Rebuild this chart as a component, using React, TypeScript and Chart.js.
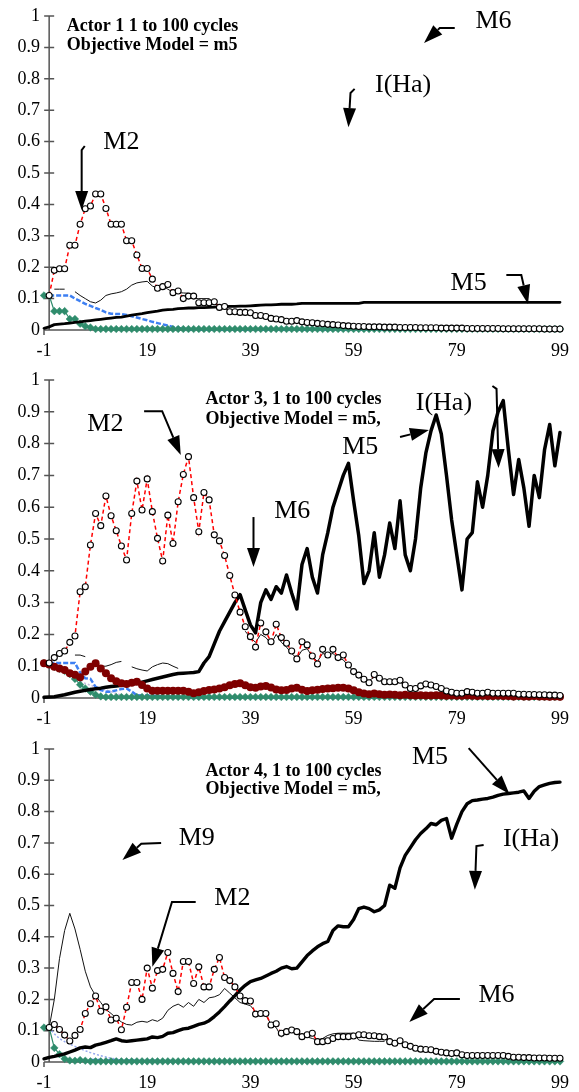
import React, { useEffect, useRef } from 'react';
import { Chart, registerables } from 'chart.js';

Chart.register(...registerables);

const SERIF = '"Liberation Serif", "Times New Roman", serif';

const X_TICKS = [-1, 19, 39, 59, 79, 99];
const Y_TICKS = [0, 0.1, 0.2, 0.3, 0.4, 0.5, 0.6, 0.7, 0.8, 0.9, 1];

// ---------------- Panel 1 : Actor 1 ----------------
const P1_M2_START = 0;
const P1_M2 = [
  0.11, 0.19, 0.195, 0.195, 0.27, 0.27, 0.337, 0.386, 0.395, 0.433,
  0.433, 0.387, 0.337, 0.337, 0.337, 0.284, 0.284, 0.239, 0.196, 0.196,
  0.162, 0.133, 0.138, 0.145, 0.119, 0.124, 0.1, 0.108, 0.108, 0.087,
  0.087, 0.087, 0.09, 0.072, 0.075, 0.058, 0.058, 0.056, 0.056, 0.055,
  0.046, 0.046, 0.043, 0.037, 0.035, 0.033, 0.028, 0.028, 0.03, 0.026,
  0.024, 0.023, 0.021, 0.02, 0.018, 0.017, 0.016, 0.014, 0.013, 0.012,
  0.011, 0.011, 0.01, 0.01, 0.01, 0.009, 0.009, 0.009, 0.008, 0.008,
  0.008, 0.008, 0.007, 0.007, 0.007, 0.007, 0.006, 0.006, 0.006, 0.006,
  0.006, 0.005, 0.005, 0.005, 0.005, 0.005, 0.005, 0.005, 0.004, 0.004,
  0.004, 0.004, 0.004, 0.004, 0.004, 0.004, 0.003, 0.003, 0.003, 0.003,
];
const P1_THIN_START = 1;
const P1_THIN = [
  0.13, 0.13, 0.13, null, 0.122, 0.11, 0.1, 0.09, 0.086, 0.095,
  0.11, 0.115, 0.118, 0.122, 0.13, 0.143, 0.15, 0.153, 0.155, 0.14,
  0.133, 0.14, 0.13, 0.12, 0.119, 0.118, 0.117, 0.1, 0.1, 0.1,
  0.1, 0.085, 0.078, 0.07, 0.06, 0.057, 0.055, 0.054, 0.052, 0.046,
  0.044, 0.042, 0.037, 0.034, 0.032, 0.028, 0.027,
];
const P1_BLUE_START = 0;
const P1_BLUE = [
  0.11, 0.11, 0.11, 0.11, 0.11, 0.1, 0.092, 0.083, 0.077, 0.07,
  0.064, 0.056, 0.052, 0.051, 0.051, 0.048, 0.044, 0.04, 0.035, 0.031,
  0.026, 0.022, 0.018, 0.014, 0.01, 0.007, 0.004, 0.002, 0.001, 0.001,
  0.001, 0.001, 0.001, 0.001, 0.001, 0.001, 0.001, 0.001, 0.001, 0.001,
  0.001, 0.001, 0.001, 0.001, 0.001, 0.001, 0.001, 0.001, 0.001, 0.001,
  0.001, 0.001, 0.001, 0.001, 0.001, 0.001, 0.001, 0.001, 0.001, 0.001,
  0.001, 0.001, 0.001, 0.001, 0.001, 0.001, 0.001, 0.001, 0.001, 0.001,
  0.001, 0.001, 0.001, 0.001, 0.001, 0.001, 0.001, 0.001, 0.001, 0.001,
  0.001, 0.001, 0.001, 0.001, 0.001, 0.001, 0.001, 0.001, 0.001, 0.001,
  0.001, 0.001, 0.001, 0.001, 0.001, 0.001, 0.001, 0.001, 0.001, 0.001,
];
const P1_GREEN_START = -1;
const P1_GREEN = [
  0.11, 0.11, 0.06, 0.06, 0.06, 0.035, 0.035, 0.02, 0.012, 0.008,
  0.003, 0.003, 0.003, 0.003, 0.003, 0.003, 0.003, 0.003, 0.003, 0.003,
  0.003, 0.003, 0.003, 0.003, 0.003, 0.003, 0.003, 0.003, 0.003, 0.003,
  0.003, 0.003, 0.003, 0.003, 0.003, 0.003, 0.003, 0.003, 0.003, 0.003,
  0.003, 0.003, 0.003, 0.003, 0.003, 0.003, 0.003, 0.003, 0.003, 0.003,
  0.003, 0.003, 0.003, 0.003, 0.003, 0.003, 0.003, 0.003, 0.003, 0.003,
  0.003, 0.003, 0.003, 0.003, 0.003, 0.003, 0.003, 0.003, 0.003, 0.003,
  0.003, 0.003, 0.003, 0.003, 0.003, 0.003, 0.003, 0.003, 0.003, 0.003,
  0.003, 0.003, 0.003, 0.003, 0.003, 0.003, 0.003, 0.003, 0.003, 0.003,
  0.003, 0.003, 0.003, 0.003, 0.003, 0.003, 0.003, 0.003, 0.003, 0.003,
  0.003, 0.003,
];
const P1_M5_START = -1;
const P1_M5 = [
  0.005, 0.01, 0.017, 0.019, 0.02, 0.022, 0.024, 0.026, 0.028, 0.03,
  0.032, 0.034, 0.036, 0.038, 0.04, 0.041, 0.044, 0.047, 0.05, 0.052,
  0.055, 0.058, 0.06, 0.063, 0.065, 0.066, 0.068, 0.069, 0.07, 0.07,
  0.071, 0.071, 0.072, 0.073, 0.074, 0.074, 0.075, 0.075, 0.076, 0.076,
  0.077, 0.078, 0.079, 0.08, 0.08, 0.081, 0.082, 0.082, 0.082, 0.083,
  0.085, 0.085, 0.085, 0.085, 0.085, 0.085, 0.085, 0.085, 0.085, 0.085,
  0.085, 0.085, 0.088, 0.088, 0.088, 0.088, 0.088, 0.088, 0.088, 0.088,
  0.088, 0.088, 0.088, 0.088, 0.088, 0.088, 0.088, 0.088, 0.088, 0.088,
  0.088, 0.088, 0.088, 0.088, 0.088, 0.088, 0.088, 0.088, 0.088, 0.088,
  0.088, 0.088, 0.088, 0.088, 0.088, 0.088, 0.088, 0.088, 0.088, 0.088,
  0.088, 0.088,
];

// ---------------- Panel 2 : Actor 3 ----------------
const P2_M2_START = 0;
const P2_M2 = [
  0.11, 0.127, 0.14, 0.148, 0.175, 0.195, 0.334, 0.35, 0.481, 0.58,
  0.542, 0.635, 0.573, 0.526, 0.478, 0.434, 0.58, 0.682, 0.591, 0.689,
  0.586, 0.502, 0.431, 0.575, 0.486, 0.617, 0.703, 0.759, 0.63, 0.523,
  0.646, 0.623, 0.513, 0.494, 0.448, 0.385, 0.324, 0.27, 0.224, 0.193,
  0.16, 0.236, 0.208, 0.177, 0.232, 0.19, 0.172, 0.148, 0.123, 0.177,
  0.167, 0.132, 0.107, 0.153, 0.135, 0.153, 0.127, 0.135, 0.104, 0.083,
  0.072, 0.059, 0.048, 0.074, 0.062, 0.051, 0.051, 0.051, 0.056, 0.041,
  0.03, 0.03, 0.038, 0.044, 0.041, 0.036, 0.03, 0.022, 0.018, 0.015,
  0.015, 0.02, 0.018, 0.015, 0.015, 0.018, 0.015, 0.015, 0.015, 0.015,
  0.015, 0.012, 0.012, 0.011, 0.011, 0.01, 0.01, 0.009, 0.009, 0.008,
];
const P2_THIN_START = 5;
const P2_THIN = [
  0.135, 0.135, 0.13, null, 0.11, 0.1, 0.1, 0.105, 0.112, 0.115,
  null, 0.098, 0.092, 0.088, 0.085, 0.098, 0.105, 0.11, 0.108, 0.1,
  0.093, null, null, null, null, null, null, null, null, null,
  null, null, null, 0.21, 0.19, 0.175, 0.2, 0.19, 0.17, 0.2,
  0.175, 0.16, 0.14, 0.125, 0.15, 0.155, 0.13, 0.115, 0.14, 0.135,
  0.14, 0.125, 0.12, 0.1, 0.085, 0.07, 0.06, 0.055, 0.065, 0.06,
  0.052, 0.05, 0.05, 0.05, 0.04, 0.032,
];
const P2_MAROON_START = -1;
const P2_MAROON = [
  0.109, 0.105, 0.098, 0.093, 0.088, 0.078, 0.073, 0.065, 0.083, 0.098,
  0.109, 0.093, 0.078, 0.062, 0.053, 0.046, 0.044, 0.048, 0.051, 0.041,
  0.03, 0.023, 0.023, 0.023, 0.023, 0.023, 0.023, 0.023, 0.02, 0.015,
  0.018, 0.022, 0.025, 0.027, 0.03, 0.034, 0.04, 0.044, 0.046, 0.04,
  0.034, 0.032, 0.036, 0.038, 0.033, 0.027, 0.024, 0.025, 0.03, 0.032,
  0.026, 0.022, 0.024, 0.026, 0.028, 0.03, 0.031, 0.032, 0.032, 0.03,
  0.024, 0.018, 0.014, 0.012, 0.014, 0.012, 0.01, 0.011, 0.01, 0.009,
  0.01, 0.009, 0.008, 0.009, 0.008, 0.008, 0.009, 0.008, 0.007, 0.008,
  0.007, 0.007, 0.008, 0.007, 0.006, 0.007, 0.006, 0.006, 0.007, 0.006,
  0.006, 0.005, 0.006, 0.005, 0.005, 0.006, 0.005, 0.005, 0.004, 0.005,
  0.004,
];
const P2_BLUE_START = 0;
const P2_BLUE = [
  0.11, 0.11, 0.11, 0.11, 0.11, 0.11, 0.08, 0.062, 0.06, 0.035,
  0.025, 0.02, 0.02, 0.024, 0.028, 0.03, 0.02, 0.009, 0.008, 0.008,
  0.007, 0.006, 0.005, 0.004, 0.003, 0.002, 0.001, 0.001, 0.001, 0.001,
  0.001, 0.001, 0.001, 0.001, 0.001, 0.001, 0.001, 0.001, 0.001, 0.001,
  0.001, 0.001, 0.001, 0.001, 0.001, 0.001, 0.001, 0.001, 0.001, 0.001,
  0.001, 0.001, 0.001, 0.001, 0.001, 0.001, 0.001, 0.001, 0.001, 0.001,
  0.001, 0.001, 0.001, 0.001, 0.001, 0.001, 0.001, 0.001, 0.001, 0.001,
  0.001, 0.001, 0.001, 0.001, 0.001, 0.001, 0.001, 0.001, 0.001, 0.001,
  0.001, 0.001, 0.001, 0.001, 0.001, 0.001, 0.001, 0.001, 0.001, 0.001,
  0.001, 0.001, 0.001, 0.001, 0.001, 0.001, 0.001, 0.001, 0.001, 0.001,
];
const P2_LAVENDER_START = 4;
const P2_LAVENDER = [0.07, 0.06, 0.052, 0.046, 0.04, 0.035, 0.03, 0.025, 0.02, 0.014, 0.009, 0.005, 0.003];
const P2_GREEN_START = -1;
const P2_GREEN = [
  0.11, 0.105, 0.098, 0.092, 0.085, 0.075, 0.06, 0.042, 0.03, 0.02,
  0.01, 0.005, 0.003, 0.003, 0.003, 0.003, 0.003, 0.003, 0.003, 0.003,
  0.003, 0.003, 0.003, 0.003, 0.003, 0.003, 0.003, 0.003, 0.003, 0.003,
  0.003, 0.003, 0.003, 0.003, 0.003, 0.003, 0.003, 0.003, 0.003, 0.003,
  0.003, 0.003, 0.003, 0.003, 0.003, 0.003, 0.003, 0.003, 0.003, 0.003,
  0.003, 0.003, 0.003, 0.003, 0.003, 0.003, 0.003, 0.003, 0.003, 0.003,
  0.003, 0.003, 0.003, 0.003, 0.003, 0.003, 0.003, 0.003, 0.003, 0.003,
  0.003, 0.003, 0.003, 0.003, 0.003, 0.003, 0.003, 0.003, 0.003, 0.003,
  0.003, 0.003, 0.003, 0.003, 0.003, 0.003, 0.003, 0.003, 0.003, 0.003,
  0.003, 0.003, 0.003, 0.003, 0.003, 0.003, 0.003, 0.003, 0.003, 0.003,
  0.003, 0.003,
];
const P2_M5_START = -1;
const P2_M5 = [
  0.002, 0.003, 0.004, 0.007, 0.01, 0.014, 0.018, 0.021, 0.024, 0.027,
  0.029, 0.031, 0.034, 0.036, 0.038, 0.04, 0.042, 0.044, 0.046, 0.05,
  0.054, 0.058, 0.062, 0.066, 0.07, 0.074, 0.077, 0.078, 0.079, 0.08,
  0.083, 0.11, 0.13, 0.17, 0.21, 0.24, 0.27, 0.3, 0.325, 0.277,
  0.23, 0.205, 0.3, 0.34, 0.31, 0.35, 0.33, 0.387, 0.33, 0.28,
  0.42, 0.47, 0.38, 0.33, 0.45, 0.52, 0.6, 0.65, 0.7, 0.738,
  0.62, 0.51, 0.36, 0.4, 0.52, 0.38, 0.45, 0.55, 0.47, 0.62,
  0.45, 0.4, 0.5, 0.66, 0.77, 0.84, 0.89, 0.83, 0.7, 0.56,
  0.45, 0.34, 0.5, 0.52, 0.68, 0.6, 0.7, 0.84, 0.9, 0.935,
  0.78, 0.64, 0.75, 0.66, 0.54, 0.7, 0.63, 0.78, 0.86, 0.73,
  0.835,
];

// ---------------- Panel 3 : Actor 4 ----------------
const P3_M2_START = 0;
const P3_M2 = [
  0.11, 0.12, 0.104, 0.086, 0.067, 0.085, 0.104, 0.155, 0.186, 0.211,
  0.162, 0.176, 0.134, 0.14, 0.103, 0.175, 0.254, 0.254, 0.2, 0.3,
  0.236, 0.292, 0.296, 0.35, 0.283, 0.225, 0.321, 0.321, 0.251, 0.304,
  0.24, 0.24, 0.296, 0.334, 0.27, 0.26, 0.24, 0.211, 0.196, 0.195,
  0.153, 0.155, 0.155, 0.118, 0.122, 0.092, 0.097, 0.102, 0.097, 0.081,
  0.087, 0.092, 0.065, 0.065, 0.068, 0.075, 0.081, 0.081, 0.081, 0.083,
  0.087, 0.087, 0.084, 0.084, 0.081, 0.08, 0.065, 0.06, 0.068, 0.055,
  0.05, 0.044, 0.041, 0.04, 0.039, 0.034, 0.031, 0.029, 0.027, 0.029,
  0.023, 0.021, 0.021, 0.021, 0.021, 0.021, 0.021, 0.021, 0.021, 0.018,
  0.015, 0.015, 0.014, 0.014, 0.013, 0.013, 0.013, 0.012, 0.012, 0.012,
];
const P3_THIN_START = 0;
const P3_THIN = [
  0.11, 0.2, 0.33, 0.42, 0.475, 0.425, 0.36, 0.29, 0.24, 0.212,
  0.19, 0.168, 0.155, 0.14, 0.128, 0.12, 0.118, 0.127, 0.13, 0.127,
  0.135, 0.13, 0.14, 0.165, 0.178, 0.185, 0.175, 0.19, 0.178, 0.2,
  0.19, 0.205, 0.208, 0.215, 0.235, 0.22, 0.205, 0.19, 0.185, 0.18,
  0.16, 0.15, 0.15, 0.12, 0.11, 0.08, 0.095, 0.1, 0.095, 0.082,
  0.08, 0.075, 0.07, 0.075, 0.085, 0.09, 0.092, 0.092, 0.092, 0.092,
  0.07, 0.068, 0.067, 0.066, 0.066, 0.066,
];
const P3_LIGHTBLUE_START = 0;
const P3_LIGHTBLUE = [
  0.11, 0.09, 0.075, 0.065, 0.057, 0.05, 0.043, 0.036, 0.03, 0.025,
  0.02, 0.016, 0.012, 0.009, 0.007, 0.005, 0.004, 0.003, 0.002, 0.001,
];
const P3_BLUE_START = 8;
const P3_BLUE = [
  0.006, 0.006, 0.006, 0.005, 0.005, 0.005, 0.005, 0.005, 0.004, 0.004,
  0.004, 0.004, 0.004, 0.003, 0.003, 0.003, 0.003,
];
const P3_GREEN_START = -1;
const P3_GREEN = [
  0.11, 0.11, 0.045, 0.025, 0.01, 0.005, 0.004, 0.006, 0.004, 0.002,
  0.002, 0.002, 0.002, 0.002, 0.002, 0.002, 0.002, 0.002, 0.002, 0.002,
  0.002, 0.002, 0.002, 0.002, 0.002, 0.002, 0.002, 0.002, 0.002, 0.002,
  0.002, 0.002, 0.002, 0.002, 0.002, 0.002, 0.002, 0.002, 0.002, 0.002,
  0.002, 0.002, 0.002, 0.002, 0.002, 0.002, 0.002, 0.002, 0.002, 0.002,
  0.002, 0.002, 0.002, 0.002, 0.002, 0.002, 0.002, 0.002, 0.002, 0.002,
  0.002, 0.002, 0.002, 0.002, 0.002, 0.002, 0.002, 0.002, 0.002, 0.002,
  0.002, 0.002, 0.002, 0.002, 0.002, 0.002, 0.002, 0.002, 0.002, 0.002,
  0.002, 0.002, 0.002, 0.002, 0.002, 0.002, 0.002, 0.002, 0.002, 0.002,
  0.002, 0.002, 0.002, 0.002, 0.002, 0.002, 0.002, 0.002, 0.002, 0.002,
  0.002, 0.002,
];
const P3_M5_START = -1;
const P3_M5 = [
  0.01, 0.015, 0.018, 0.022, 0.026, 0.032, 0.038, 0.045, 0.048, 0.046,
  0.054, 0.058, 0.063, 0.068, 0.074, 0.068, 0.066, 0.068, 0.07, 0.072,
  0.074, 0.08, 0.078, 0.082, 0.092, 0.094, 0.1, 0.106, 0.108, 0.114,
  0.12, 0.124, 0.132, 0.145, 0.16, 0.177, 0.195, 0.212, 0.23, 0.245,
  0.257, 0.262, 0.267, 0.275, 0.283, 0.29, 0.3, 0.305, 0.298, 0.3,
  0.32, 0.34, 0.355, 0.368, 0.378, 0.385, 0.42, 0.435, 0.432, 0.432,
  0.455, 0.49, 0.495, 0.49, 0.48, 0.486, 0.5, 0.565, 0.555, 0.62,
  0.66, 0.685, 0.71, 0.73, 0.745, 0.762, 0.758, 0.772, 0.778, 0.715,
  0.76, 0.8, 0.825, 0.835, 0.837, 0.84, 0.842, 0.846, 0.852, 0.856,
  0.858, 0.86, 0.862, 0.866, 0.842, 0.865, 0.88, 0.885, 0.89, 0.893,
  0.894,
];

// ---------------- styling helpers ----------------
const C_RED = '#ff0000';
const C_GREEN = '#2f8c6c';
const C_BLUE = '#3d7ff2';
const C_MAROON = '#7f0000';

function pts(start: number, values: (number | null)[]) {
  return values.map((v, i) => ({ x: start + i, y: v }));
}

function m2Set(start: number, values: (number | null)[]) {
  return {
    data: pts(start, values), order: 0, clip: false,
    borderColor: C_RED, borderWidth: 1.5, borderDash: [4, 3],
    pointRadius: 3, pointBorderColor: '#000', pointBackgroundColor: '#fff', pointBorderWidth: 1.1,
  };
}
function maroonSet(start: number, values: (number | null)[]) {
  return {
    data: pts(start, values), order: 1, clip: false, showLine: false,
    pointRadius: 4, pointBorderWidth: 0, pointBackgroundColor: C_MAROON, pointBorderColor: C_MAROON,
  };
}
function m5Set(start: number, values: (number | null)[], w: number) {
  return {
    data: pts(start, values), order: 2, clip: false,
    borderColor: '#000', borderWidth: w, pointRadius: 0, borderJoinStyle: 'round', borderCapStyle: 'round',
  };
}
function thinSet(start: number, values: (number | null)[]) {
  return {
    data: pts(start, values), order: 3, clip: false,
    borderColor: '#111', borderWidth: 1, pointRadius: 0,
  };
}
function greenSet(start: number, values: (number | null)[]) {
  return {
    data: pts(start, values), order: 4, clip: false,
    borderColor: C_GREEN, borderWidth: 1.2, pointStyle: 'rectRot', pointRadius: 3.8,
    pointBackgroundColor: C_GREEN, pointBorderColor: C_GREEN, pointBorderWidth: 0.5,
  };
}
function blueSet(start: number, values: (number | null)[]) {
  return {
    data: pts(start, values), order: 5, clip: false,
    borderColor: C_BLUE, borderWidth: 2.5, borderDash: [5, 2], pointRadius: 0,
  };
}
function faintSet(start: number, values: (number | null)[], color: string) {
  return {
    data: pts(start, values), order: 6, clip: false,
    borderColor: color, borderWidth: 1.5, borderDash: [2, 2], pointRadius: 0,
  };
}

const PANELS = [
  {
    top: 0, height: 362, padTop: 16, axisH: 32,
    datasets: [
      m2Set(P1_M2_START, P1_M2),
      m5Set(P1_M5_START, P1_M5, 2.8),
      thinSet(P1_THIN_START, P1_THIN),
      greenSet(P1_GREEN_START, P1_GREEN),
      blueSet(P1_BLUE_START, P1_BLUE),
    ],
    title: { x: 3.4, lines: [['Actor 1 1 to 100 cycles', 0.968], ['Objective Model = m5', 0.905]] },
    labels: [['M6', 86.1, 0.984], ['I(Ha)', 68.6, 0.78], ['M2', 14, 0.599], ['M5', 81.3, 0.15]],
    arrows: [
      [[78.6, 0.962], [75.7, 0.962], [72.65, 0.914]],
      [[59.2, 0.768], [58.4, 0.755], [58.0, 0.646]],
      [[6.9, 0.586], [6.3, 0.573], [6.3, 0.382]],
      [[88.6, 0.175], [91.5, 0.175], [92.8, 0.083]],
    ],
  },
  {
    top: 362, height: 362, padTop: 18, axisH: 26,
    datasets: [
      m2Set(P2_M2_START, P2_M2),
      maroonSet(P2_MAROON_START, P2_MAROON),
      m5Set(P2_M5_START, P2_M5, 3.5),
      thinSet(P2_THIN_START, P2_THIN),
      greenSet(P2_GREEN_START, P2_GREEN),
      blueSet(P2_BLUE_START, P2_BLUE),
      faintSet(P2_LAVENDER_START, P2_LAVENDER, '#c7b9df'),
    ],
    title: { x: 30.3, lines: [['Actor 3, 1 to 100 cycles', 0.94], ['Objective Model = m5,', 0.877]] },
    labels: [['M2', 10.9, 0.862], ['M6', 47.1, 0.588], ['M5', 60.3, 0.789], ['I(Ha)', 76.5, 0.928]],
    arrows: [
      [[18.4, 0.902], [21.9, 0.902], [25.5, 0.764]],
      [[39.6, 0.569], [39.6, 0.412]],
      [[68, 0.821], [73.6, 0.843]],
      [[85.9, 0.981], [86.7, 0.972], [87.1, 0.723]],
    ],
  },
  {
    top: 724, height: 368, padTop: 25, axisH: 30,
    datasets: [
      m2Set(P3_M2_START, P3_M2),
      m5Set(P3_M5_START, P3_M5, 3.4),
      thinSet(P3_THIN_START, P3_THIN),
      greenSet(P3_GREEN_START, P3_GREEN),
      blueSet(P3_BLUE_START, P3_BLUE),
      faintSet(P3_LIGHTBLUE_START, P3_LIGHTBLUE, '#93a6ee'),
    ],
    title: { x: 30.3, lines: [['Actor 4, 1 to 100 cycles', 0.93], ['Objective Model = m5,', 0.872]] },
    labels: [['M9', 28.6, 0.716], ['M2', 35.5, 0.524], ['M5', 73.8, 0.974], ['I(Ha)', 93.4, 0.712], ['M6', 86.7, 0.214]],
    arrows: [
      [[21.7, 0.7], [17.85, 0.697], [14.2, 0.645]],
      [[28.4, 0.511], [23.8, 0.511], [20, 0.304]],
      [[81.3, 1.003], [89.2, 0.856]],
      [[84.2, 0.693], [82.8, 0.69], [82.5, 0.55]],
      [[79.6, 0.201], [74.6, 0.201], [69.8, 0.128]],
    ],
  },
];

const excelPlugin = {
  id: 'excel',
  beforeDatasetsDraw(chart: any) {
    const { ctx, scales } = chart;
    const x = scales.x, y = scales.y;
    const y0 = y.getPixelForValue(0), y1 = y.getPixelForValue(1);
    const xa = x.getPixelForValue(0);
    const xl = x.getPixelForValue(-1), xr = x.getPixelForValue(99);
    ctx.save();
    ctx.strokeStyle = '#555';
    ctx.lineWidth = 1.5;
    ctx.beginPath();
    ctx.moveTo(xl, y0); ctx.lineTo(xr, y0);
    ctx.moveTo(xa, y0); ctx.lineTo(xa, y1);
    ctx.moveTo(xl, y0); ctx.lineTo(xl, y0 + 5);
    Y_TICKS.forEach((t) => {
      const py = y.getPixelForValue(t);
      ctx.moveTo(xa - 5, py); ctx.lineTo(xa + 5, py);
    });
    ctx.stroke();
    ctx.restore();
  },
  afterDraw(chart: any, _args: any, opts: any) {
    const { ctx, scales } = chart;
    const x = scales.x, y = scales.y;
    const px = (v: number) => x.getPixelForValue(v);
    const py = (v: number) => y.getPixelForValue(v);
    ctx.save();
    ctx.fillStyle = '#000';
    ctx.textBaseline = 'middle';
    ctx.textAlign = 'left';
    ctx.font = `bold 18px ${SERIF}`;
    opts.title.lines.forEach((ln: any) => ctx.fillText(ln[0], px(opts.title.x), py(ln[1])));
    ctx.textAlign = 'center';
    ctx.font = `26px ${SERIF}`;
    opts.labels.forEach((l: any) => ctx.fillText(l[0], px(l[1]), py(l[2])));
    ctx.strokeStyle = '#000';
    ctx.lineWidth = 2;
    ctx.lineJoin = 'miter';
    opts.arrows.forEach((a: number[][]) => {
      const p = a.map((q) => [px(q[0]), py(q[1])]);
      const n = p.length;
      const [ax, ay] = p[n - 2];
      const [bx, by] = p[n - 1];
      const ang = Math.atan2(by - ay, bx - ax);
      const L = 19, W = 6.5;
      const cx = bx - L * Math.cos(ang), cy = by - L * Math.sin(ang);
      ctx.beginPath();
      ctx.moveTo(p[0][0], p[0][1]);
      for (let i = 1; i < n - 1; i++) ctx.lineTo(p[i][0], p[i][1]);
      ctx.lineTo(cx, cy);
      ctx.stroke();
      ctx.beginPath();
      ctx.moveTo(bx, by);
      ctx.lineTo(cx + W * Math.sin(ang), cy - W * Math.cos(ang));
      ctx.lineTo(cx - W * Math.sin(ang), cy + W * Math.cos(ang));
      ctx.closePath();
      ctx.fill();
    });
    ctx.restore();
  },
};

function buildConfig(p: any) {
  const tickFont = { family: SERIF, size: 18 };
  return {
    type: 'line',
    data: { datasets: p.datasets },
    plugins: [excelPlugin],
    options: {
      animation: false,
      responsive: false,
      devicePixelRatio: 1,
      layout: { padding: { top: p.padTop, right: 15, left: 0, bottom: 0 } },
      plugins: {
        legend: { display: false },
        tooltip: { enabled: false },
        excel: { title: p.title, labels: p.labels, arrows: p.arrows },
      },
      elements: { line: { tension: 0 } },
      scales: {
        x: {
          type: 'linear', min: -1, max: 99,
          afterBuildTicks: (s: any) => { s.ticks = X_TICKS.map((v) => ({ value: v })); },
          afterFit: (s: any) => { s.height = p.axisH; },
          grid: { display: false, drawTicks: false },
          border: { display: false },
          ticks: { padding: 10, maxRotation: 0, autoSkip: false, color: '#000', font: tickFont, callback: (v: number) => String(v) },
        },
        y: {
          type: 'linear', min: 0, max: 1,
          afterBuildTicks: (s: any) => { s.ticks = Y_TICKS.map((v) => ({ value: v })); },
          afterFit: (s: any) => { s.width = 44; },
          grid: { display: false, drawTicks: false },
          border: { display: false },
          ticks: { padding: 4, color: '#000', font: tickFont, callback: (v: number) => String(Math.round(v * 10) / 10) },
        },
      },
    },
  };
}

function Panel({ cfg }: { cfg: any }) {
  const ref = useRef<HTMLCanvasElement>(null);
  useEffect(() => {
    const chart = new Chart(ref.current as HTMLCanvasElement, buildConfig(cfg) as any);
    return () => chart.destroy();
  }, []);
  return (
    <canvas
      ref={ref}
      width={579}
      height={cfg.height}
      style={{ position: 'absolute', left: 0, top: cfg.top, width: 579, height: cfg.height, display: 'block' }}
    />
  );
}

export default function App() {
  return (
    <div style={{ position: 'absolute', left: 0, top: 0, width: 579, height: 1092, background: '#fff', overflow: 'hidden' }}>
      {PANELS.map((p, i) => (
        <Panel key={i} cfg={p} />
      ))}
    </div>
  );
}
